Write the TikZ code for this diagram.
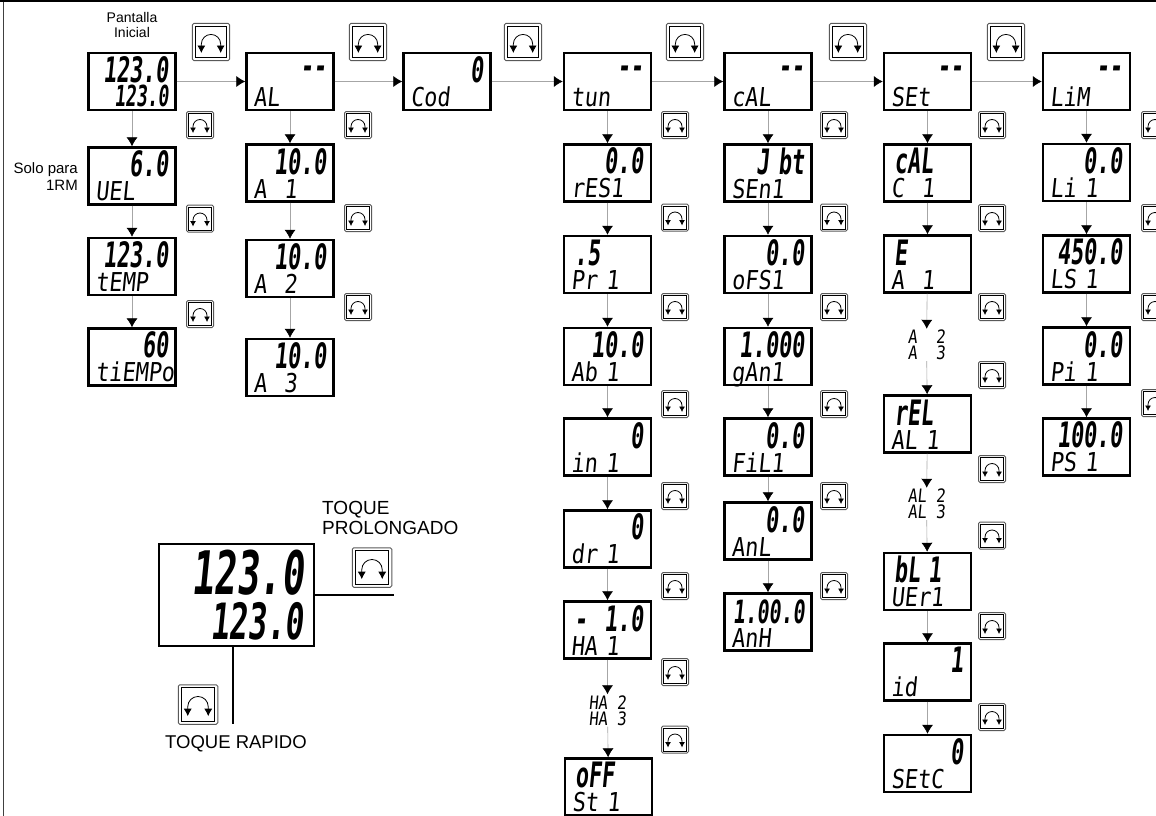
\documentclass[tikz,border=0pt]{standalone}
\usepackage{fontspec}
\setmainfont{Liberation Sans}
\newfontfamily\lcdarriba[FakeStretch=0.62,FakeSlant=0.1]{DejaVu Sans Mono Bold}
\newfontfamily\lcdabajo[FakeStretch=0.84,FakeSlant=0.1]{DejaVu Sans Mono}
\usetikzlibrary{arrows.meta}
\newcommand{\ar}[1]{\rule{0pt}{26pt}\hspace*{\fill}{\fontsize{35}{35}\lcdarriba #1}}
\newcommand{\iz}[1]{\rule{0pt}{26pt}\hspace*{3pt}{\fontsize{35}{35}\lcdarriba #1}}
\newcommand{\guion}{\rule{0pt}{26pt}\hspace*{\fill}\raisebox{4pt}{\fontsize{35}{35}\lcdarriba {-}{-}}\hspace*{\fill}}
\tikzset{boton/.pic={
 \draw[gray!70!black,line width=1,rounded corners=1.5] (-13.5,-13.5) rectangle (13.5,13.5);
 \draw[black,line width=1] (-11.5,-11.5) rectangle (11.5,11.5);
 \draw[<->,line width=.8] (-7,8)--(-7,1.5) arc[start angle=180,end angle=360,radius=7]--(7,8);
}}
\begin{document}
\begin{tikzpicture}[x=1pt,y=-1pt,>={Latex[length=5.5pt,width=6pt]}]
 \tikzstyle{pantalla}=[draw,line width=2.4,minimum width=87,minimum height=57,text width=73,inner sep=3,align=left,font=\fontsize{26}{24}\lcdabajo]
 \tikzstyle{flecha}=[->,>={Latex[black,length=9pt,width=11pt]},gray!70,line width=.6]
 \tikzstyle{intermedia}=[inner sep=1,align=left,font=\fontsize{18.5}{16}\lcdabajo]
 \tikzstyle{botong}=[scale=1.38,>={Latex[length=7.5pt,width=8pt]}]
 \tikzstyle{rotulo}=[align=center,inner sep=0,font=\fontsize{14}{15}\selectfont]
 \tikzstyle{grande}=[align=left,inner sep=0,font=\fontsize{19}{20}\selectfont]
 \useasboundingbox (0,0) rectangle (1156,816);
 \draw[line width=1.2,black!75] (3.3,816)--(3.3,1);
 \draw[line width=2.4] (0,1)--(1156,1);
 % columna 1
 \node[pantalla] (P1) at (132,81.5) {\ar{123.0}\\\hspace*{\fill}{\fontsize{29}{24}\lcdarriba 123.0}};
 \node[pantalla] (P2) at (132,176) {\ar{6.0}\\UEL};
 \node[pantalla] (P3) at (132,266.5) {\ar{123.0}\\tEMP};
 \node[pantalla] (P4) at (132,357) {\ar{60}\\tiEMPo};
 % columna 2
 \node[pantalla] (A0) at (290,81.5) {\guion\\AL};
 \node[pantalla] (A1) at (290,173) {\ar{10.0}\\A~~1};
 \node[pantalla] (A2) at (290,268.5) {\ar{10.0}\\A~~2};
 \node[pantalla] (A3) at (290,367.5) {\ar{10.0}\\A~~3};
 % columna 3
 \node[pantalla] (C0) at (447,81.5) {\ar{0}\\Cod};
 % columna 4
 \node[pantalla] (T0) at (607.5,81.5) {\guion\\tun};
 \node[pantalla] (T1) at (607.5,173) {\ar{0.0}\\rES1};
 \node[pantalla] (T2) at (607.5,264.5) {\iz{.5}\\Pr~1};
 \node[pantalla] (T3) at (607.5,356.5) {\ar{10.0}\\Ab~1};
 \node[pantalla] (T4) at (607.5,447) {\ar{0}\\in~1};
 \node[pantalla] (T5) at (607.5,539) {\ar{0}\\dr~1};
 \node[pantalla] (T6) at (607.5,630) {\iz{-}\ar{1.0}\\HA~1};
 \node[intermedia] (T7) at (607.5,710.5) {HA~2\\HA~3};
 \node[pantalla] (T8) at (608.5,787) {\iz{oFF}\\St~1};
 % columna 5
 \node[pantalla] (L0) at (768,81.5) {\guion\\cAL};
 \node[pantalla] (L1) at (768,173) {\ar{J~bt}\\SEn1};
 \node[pantalla] (L2) at (768,264.5) {\ar{0.0}\\oFS1};
 \node[pantalla] (L3) at (768,356.5) {\ar{1.000}\\\smash{gAn1}};
 \node[pantalla] (L4) at (768,447) {\ar{0.0}\\FiL1};
 \node[pantalla] (L5) at (768,531) {\ar{0.0}\\AnL};
 \node[pantalla] (L6) at (768,622) {\ar{\fontsize{32}{32}\selectfont 1.00.0}\\AnH};
 % columna 6
 \node[pantalla] (S0) at (927.5,81.5) {\guion\\SEt};
 \node[pantalla] (S1) at (927.5,173) {\iz{cAL}\\C~~1};
 \node[pantalla] (S2) at (927.5,264) {\iz{E}\\A~~1};
 \node[intermedia] (S3) at (926.5,345) {A~~2\\A~~3};
 \node[pantalla] (S4) at (927.5,424) {\iz{rEL}\\AL~1};
 \node[intermedia] (S5) at (926.5,504) {AL~2\\AL~3};
 \node[pantalla] (S6) at (927.5,581.5) {\iz{bL~1}\\UEr1};
 \node[pantalla] (S7) at (927.5,672) {\ar{1}\\id};
 \node[pantalla] (S8) at (927.5,763.5) {\ar{0}\\SEtC};
 % columna 7
 \node[pantalla] (M0) at (1086.5,81.5) {\guion\\LiM};
 \node[pantalla] (M1) at (1086.5,172.5) {\ar{0.0}\\Li~1};
 \node[pantalla] (M2) at (1086.5,264) {\ar{450.0}\\LS~1};
 \node[pantalla] (M3) at (1086.5,356) {\ar{0.0}\\Pi~1};
 \node[pantalla] (M4) at (1086.5,447) {\ar{100.0}\\PS~1};
 % conexiones
 \draw[flecha] (P1)--(A0);
 \draw[flecha] (A0)--(C0);
 \draw[flecha] (C0)--(T0);
 \draw[flecha] (T0)--(L0);
 \draw[flecha] (L0)--(S0);
 \draw[flecha] (S0)--(M0);
 \foreach \a/\b in {P1/P2,P2/P3,P3/P4,A0/A1,A1/A2,A2/A3,T0/T1,T1/T2,T2/T3,T3/T4,T4/T5,T5/T6,T6/T7,T7/T8,
   L0/L1,L1/L2,L2/L3,L3/L4,L4/L5,L5/L6,S0/S1,S1/S2,S2/S3,S3/S4,S4/S5,S5/S6,S6/S7,S7/S8,M0/M1,M1/M2,M2/M3,M3/M4}
   \draw[flecha] (\a)--(\b);
 % botones
 \foreach \x in {211,368,523,685,848,1006}
   \pic[botong] at (\x,42) {boton};
 \foreach \x/\y in {200/125,200/218.5,200/314,358/125,358/218,358/307,
   675/125,675/217.5,675/307,675/404,675/496,675/586,675/672,675/739.5,
   834/125,834/217.5,834/307,834/404,834/496,834/586,
   992/125,992/218,992/307,992/375,992/469,992/535.5,992/626,992/717,
   1155/125,1155/218,1155/307,1155/403}
   \pic at (\x,\y) {boton};
 % ejemplo
 \node[pantalla,line width=2,minimum width=155,minimum height=102,text width=134] (G) at (236.5,595) {\hspace*{\fill}{\fontsize{60}{47}\lcdarriba 123.0}\\[6pt]\hspace*{\fill}{\fontsize{50}{47}\lcdarriba 123.0}};
 \coordinate (GR) at (394,595);
 \coordinate (GB) at (232.7,724);
 \draw[line width=2.2] (G.east|-GR)--(GR);
 \draw[line width=2.2] (GB|-G.south)--(GB);
 \pic[botong,scale=1.06] at (372,567.5) {boton};
 \pic[botong,scale=1.06] at (198,704.5) {boton};
 % textos
 \node[rotulo] (tit) at (132,25) {Pantalla\\Inicial};
 \node[rotulo,align=right,anchor=east,font=\fontsize{15}{17}\selectfont] (solo) at (78,177) {Solo para\\1RM};
 \node[grande,anchor=west] (tp) at (322,518) {TOQUE\\PROLONGADO};
 \node[grande,anchor=west,font=\fontsize{18.5}{20}\selectfont] (tr) at (165,744) {TOQUE RAPIDO};
\end{tikzpicture}
\end{document}
